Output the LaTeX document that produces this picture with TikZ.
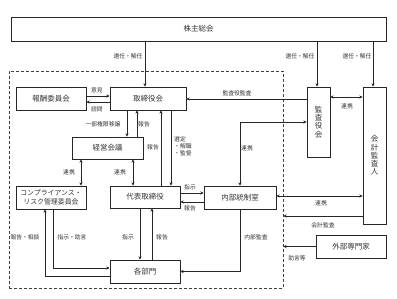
\documentclass[tikz,border=0pt]{standalone}
\usepackage{fontspec}
\newfontfamily\jp{Noto Sans CJK JP}
\usetikzlibrary{arrows.meta,calc}
\begin{document}
\begin{tikzpicture}[x=1pt,y=-1pt,
  box/.style={draw=black!85, line width=0.9pt, inner sep=0pt, text=black!80, font=\jp\fontsize{7.5}{8.3}\selectfont, align=center},
  lab/.style={inner sep=0pt, text=black!80, font=\jp\fontsize{5.8}{7.5}\selectfont},
  arr/.style={draw=black!85, line width=0.8pt, -{Stealth[length=3.2pt,width=3.2pt]}},
  darr/.style={draw=black!85, line width=0.8pt, {Stealth[length=3.2pt,width=3.2pt]}-{Stealth[length=3.2pt,width=3.2pt]}}
]
\useasboundingbox (0,0) rectangle (397,298);
\node[draw=black!75, line width=0.9pt, dash pattern=on 3pt off 2pt, minimum width=274pt, minimum height=217pt, inner sep=0pt] (frame) at (146,179.5) {};

\node[box, minimum width=375pt, minimum height=24pt] (kabu) at (198.5,29) {株主総会};
\node[box, minimum width=70pt, minimum height=23pt] (hoshu) at (51,98.5) {報酬委員会};
\node[box, minimum width=76pt, minimum height=23pt] (tori) at (148,98.5) {取締役会};
\node[box, minimum width=71pt, minimum height=22pt] (keiei) at (107.5,148) {経営会議};
\node[box, minimum width=70pt, minimum height=23pt, font=\jp\fontsize{6.9}{8.3}\selectfont] (comp) at (51,197.5) {コンプライアンス・\\リスク管理委員会};
\node[box, minimum width=70pt, minimum height=22pt] (daihyo) at (145,197) {代表取締役};
\node[box, minimum width=72pt, minimum height=23pt] (naibu) at (240,197.5) {内部統制室};
\node[box, minimum width=70pt, minimum height=23pt] (kakubu) at (145,271.5) {各部門};
\node[box, minimum width=23pt, minimum height=70pt] (kansa) at (318.5,122) {監\\査\\役\\会};
\node[box, minimum width=23pt, minimum height=137pt] (kaikei) at (374.5,155.5) {会\\計\\監\\査\\人};
\node[box, minimum width=70pt, minimum height=23pt] (gaibu) at (351,246.5) {外部専門家};

% shareholders
\draw[arr] ([xshift=-3pt]tori.north |- kabu.south) -- ([xshift=-3pt]tori.north);
\draw[arr] ([xshift=-1.5pt]kansa.north |- kabu.south) -- ([xshift=-1.5pt]kansa.north);
\draw[arr] ([xshift=-1.5pt]kaikei.north |- kabu.south) -- ([xshift=-1.5pt]kaikei.north);
\node[lab] (l1) at (128,56) {選任・解任};
\node[lab] (l2) at (300,56) {選任・解任};
\node[lab] (l3) at (357,56) {選任・解任};

% remuneration committee
\draw[arr] ([yshift=2.5pt]hoshu.east) -- ([yshift=2.5pt]hoshu.east -| tori.west);
\draw[arr] ([yshift=-3.5pt]tori.west) -- ([yshift=-3.5pt]tori.west -| hoshu.east);
\node[lab] (l4) at (97,90) {意見};
\node[lab] (l5) at (97,109) {諮問};

% board <-> management meeting
\draw[arr] ([xshift=-21pt]tori.south) -- ([xshift=-21pt]tori.south |- keiei.north);
\draw[arr] ([xshift=-11pt]tori.south |- keiei.north) -- ([xshift=-11pt]tori.south);
\node[lab] (l6) at (103,124) {一部権限移譲};
\node[lab] (l7) at (144,124) {報告};

% board <-> representative director
\draw[arr] ([xshift=16pt]daihyo.north) -- ([xshift=16pt]daihyo.north |- tori.south);
\draw[arr] ([xshift=23pt]tori.south) -- ([xshift=23pt]tori.south |- daihyo.north);
\node[lab] (l8) at (153,147) {報告};
\node[lab, anchor=north west, align=left, font=\jp\fontsize{5.8}{7.3}\selectfont] (l9) at (174,136) {選定\\・解職\\・監督};

% management meeting links
\draw[darr] ([xshift=-26.5pt]keiei.south) -- ([xshift=-26.5pt]keiei.south |- comp.north);
\draw[darr] ([xshift=25.5pt]keiei.south) -- ([xshift=25.5pt]keiei.south |- daihyo.north);
\node[lab] (l10) at (69,172) {連携};
\node[lab] (l11) at (120,172) {連携};

% audit board
\draw[arr] ([yshift=23pt]kansa.west) -- ([yshift=23pt]kansa.west -| tori.east);
\node[lab] (l12) at (237,93) {監査役監査};
\draw[darr] (naibu.north) |- (kansa.west);
\node[lab] (l13) at (247,148) {連携};
\draw[darr] ([yshift=25pt]kansa.east) -- ([yshift=25pt]kansa.east -| kaikei.west);
\node[lab] (l14) at (347,106) {連携};

% accounting auditor
\draw[darr] ([yshift=1.5pt]naibu.east) -- ([yshift=1.5pt]naibu.east -| kaikei.west);
\node[lab] (l15) at (321,203) {連携};
\draw[arr] ([yshift=-60.5pt]kaikei.west) -- ([yshift=-60.5pt]kaikei.west -| frame.east);
\node[lab] (l16) at (323,225) {会計監査};
\draw[arr] (gaibu.west) -- (gaibu.west -| frame.east);
\node[lab] (l17) at (297,258) {助言等};

% representative director <-> internal control
\draw[arr] ([yshift=4pt]daihyo.east) -- ([yshift=4pt]daihyo.east -| naibu.west);
\draw[arr] ([yshift=-5pt]daihyo.east -| naibu.west) -- ([yshift=-5pt]daihyo.east);
\node[lab] (l18) at (190,187) {指示};
\node[lab] (l19) at (190,208) {報告};

% representative director <-> departments
\draw[arr] ([xshift=-5pt]daihyo.south) -- ([xshift=-5pt]daihyo.south |- kakubu.north);
\draw[arr] ([xshift=7pt]daihyo.south |- kakubu.north) -- ([xshift=7pt]daihyo.south);
\node[lab] (l20) at (128,237) {指示};
\node[lab] (l21) at (162,237) {報告};

% internal audit
\draw[arr] (naibu.south) |- (kakubu.east);
\node[lab] (l22) at (256,237) {内部監査};

% compliance committee <-> departments
\draw[arr] ([xshift=2pt]comp.south) |- ([yshift=3.5pt]kakubu.west);
\draw[arr] ([yshift=-4.5pt]kakubu.west) -| ([xshift=-6pt]comp.south);
\node[lab] (l23) at (72,237) {指示・助言};
\node[lab] (l24) at (25,237) {報告・相談};
\end{tikzpicture}
\end{document}
